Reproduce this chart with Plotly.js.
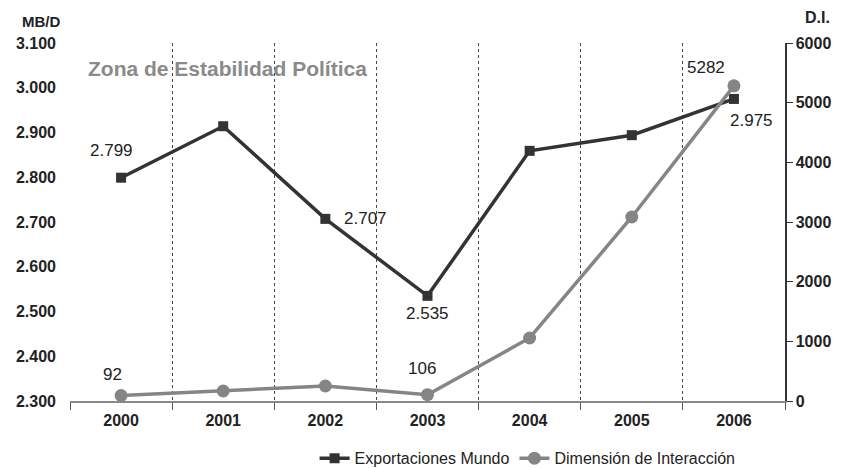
<!DOCTYPE html>
<html><head><meta charset="utf-8">
<script src="https://cdn.plot.ly/plotly-3.0.1.min.js"></script>
<style>body{margin:0;background:#fff}#c{width:841px;height:468px}</style>
</head><body><div id="c"></div>
<script>
const years = ['2000','2001','2002','2003','2004','2005','2006'];
const exportaciones = [2799, 2914, 2707, 2535, 2859, 2894, 2975];
const dimension = [92, 168, 251, 106, 1056, 3084, 5282];
const exportLabelIdx = [0, 2, 3, 6];
const dimLabelIdx = [0, 3, 6];
const leftTicks = [2300, 2400, 2500, 2600, 2700, 2800, 2900, 3000, 3100];
const rightTicks = [0, 1000, 2000, 3000, 4000, 5000, 6000];

const fmt = v => { const s = String(v); return s.length > 3 ? s.slice(0, s.length-3) + '.' + s.slice(-3) : s; };
const expOffsets = {0:[-10,-27], 2:[40,0], 3:[0,18], 6:[18,22]};
const dimOffsets = {0:[-9,-21], 3:[-6,-26], 6:[-28,-18]};
const labelFont = {family:'Liberation Sans, Arial', size:17, color:'#222'};

const annotations = [];
exportLabelIdx.forEach(i => annotations.push({x: i, y: exportaciones[i], xref:'x', yref:'y', text: fmt(exportaciones[i]), showarrow:false, xshift: expOffsets[i][0], yshift: -expOffsets[i][1], font: labelFont}));
dimLabelIdx.forEach(i => annotations.push({x: i, y: dimension[i], xref:'x', yref:'y2', text: String(dimension[i]), showarrow:false, xshift: dimOffsets[i][0], yshift: -dimOffsets[i][1], font: labelFont}));
annotations.push({xref:'paper', yref:'paper', x:0.022, y:0.93, xanchor:'left', yanchor:'middle', text:'<b>Zona de Estabilidad Política</b>', showarrow:false, font:{family:'Liberation Sans, Arial', size:21, color:'#8a8a8a'}});
annotations.push({xref:'paper', yref:'paper', x:-0.07, y:1.06, xanchor:'left', yanchor:'middle', text:'<b>MB/D</b>', showarrow:false, font:{family:'Liberation Sans, Arial', size:15, color:'#222'}});
annotations.push({xref:'paper', yref:'paper', x:1.025, y:1.07, xanchor:'left', yanchor:'middle', text:'<b>D.I.</b>', showarrow:false, font:{family:'Liberation Sans, Arial', size:16, color:'#222'}});

const traces = [
  {x: years, y: exportaciones, name:'Exportaciones Mundo', type:'scatter', mode:'lines+markers', yaxis:'y',
   line:{color:'#333333', width:3.5}, marker:{symbol:'square', size:10, color:'#333333'}},
  {x: years, y: dimension, name:'Dimensión de Interacción', type:'scatter', mode:'lines+markers', yaxis:'y2',
   line:{color:'#858585', width:3.5}, marker:{symbol:'circle', size:13, color:'#858585'}}
];

const tf = {family:'Liberation Sans, Arial', size:16, color:'#222', weight:'bold'};
const layout = {
  width:841, height:468,
  margin:{l:70, r:56, t:43, b:67, autoexpand:false},
  paper_bgcolor:'#fff', plot_bgcolor:'#fff',
  showlegend:true,
  legend:{orientation:'h', x:0.64, xanchor:'center', y:-0.16, yanchor:'middle', font:{family:'Liberation Sans, Arial', size:16, color:'#222'}, tracegroupgap:0},
  xaxis:{type:'category', tickson:'boundaries', range:[-0.5,6.5], showgrid:true, griddash:'dot', gridcolor:'#444', gridwidth:1,
    showline:true, linecolor:'#888', linewidth:2, ticks:'outside', ticklen:7, tickcolor:'#555', ticklabelstandoff:4,
    tickfont: tf, zeroline:false, fixedrange:true},
  yaxis:{range:[2300,3100], tickvals:leftTicks, ticktext: leftTicks.map(fmt), showgrid:false, zeroline:false, showline:false, ticks:'',
    ticklabelstandoff:13, tickfont: tf},
  yaxis2:{overlaying:'y', side:'right', range:[0,6000], tickvals:rightTicks, tickformat:'d', showgrid:false, zeroline:false,
    showline:true, linecolor:'#333', linewidth:1.5, ticks:'outside', ticklen:6, tickcolor:'#333',
    tickfont: tf},
  annotations: annotations
};
Plotly.newPlot('c', traces, layout, {staticPlot:true});
</script></body></html>
